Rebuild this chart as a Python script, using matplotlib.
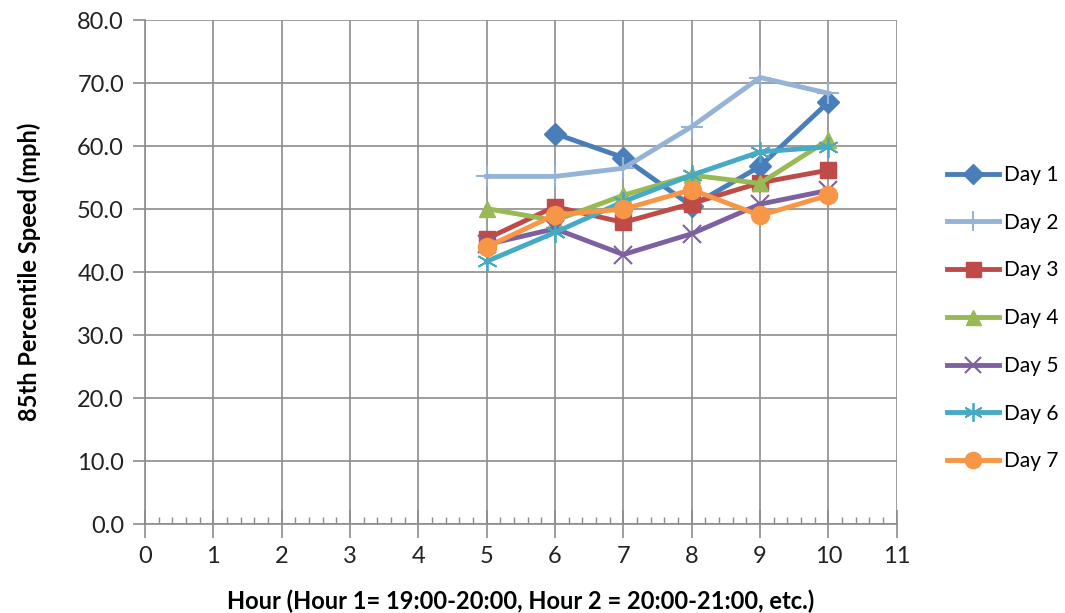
import matplotlib
matplotlib.use('Agg')
import matplotlib.pyplot as plt
from matplotlib.ticker import MultipleLocator, FormatStrFormatter

# hour values and 85th percentile speeds (mph) per day
hours_day1 = [6, 7, 8, 9, 10]
day1 = [62.0, 58.2, 50.5, 56.8, 67.0]
hours = [5, 6, 7, 8, 9, 10]
day2 = [55.2, 55.2, 56.5, 63.1, 70.9, 68.4]
day3 = [45.3, 50.4, 47.9, 50.9, 54.2, 56.2]
day4 = [50.1, 48.2, 52.2, 55.4, 54.1, 61.0]
day5 = [44.4, 46.9, 42.8, 46.1, 50.8, 53.0]
day6 = [41.7, 46.3, 51.2, 55.4, 59.1, 59.9]
day7 = [44.0, 49.1, 50.0, 53.1, 49.0, 52.2]

series = [
    ('Day 1', hours_day1, day1, '#4A7EBB', 'D', 11, 1),
    ('Day 2', hours, day2, '#95B3D7', '+', 16, 1.5),
    ('Day 3', hours, day3, '#BE4B48', 's', 12, 1),
    ('Day 4', hours, day4, '#98B954', '^', 12, 1),
    ('Day 5', hours, day5, '#7D60A0', 'x', 13, 1.5),
    ('Day 6', hours, day6, '#46AAC5', (6, 2, 0), 15, 1.3),
    ('Day 7', hours, day7, '#F79646', 'o', 13, 1),
]

plt.rcParams['font.family'] = ['Lato', 'DejaVu Sans']

fig = plt.figure(figsize=(10.65, 6.13), dpi=100)
ax = fig.add_axes([0.136, 0.145, 0.706, 0.822])

for name, x, y, color, marker, ms, mew in series:
    ax.plot(x, y, color=color, linewidth=3.5, label=name,
            marker=marker, markersize=ms, markeredgewidth=mew, zorder=3)

ax.set_xlim(0, 11)
ax.set_ylim(0, 80)
ax.xaxis.set_major_locator(MultipleLocator(1))
ax.xaxis.set_minor_locator(MultipleLocator(0.2))
ax.yaxis.set_major_locator(MultipleLocator(10))
ax.yaxis.set_major_formatter(FormatStrFormatter('%.1f'))

ax.grid(True, which='major', color='#8C8C8C', linewidth=1.2)
ax.set_axisbelow(True)
for side in ['top', 'right']:
    ax.spines[side].set_visible(False)
for side in ['left', 'bottom']:
    ax.spines[side].set_color('#8C8C8C')
    ax.spines[side].set_linewidth(1.2)

ax.tick_params(axis='y', which='major', direction='out', length=9, width=1.2,
               color='#8C8C8C', labelsize=17, pad=6, labelcolor='#222222')
ax.tick_params(axis='x', which='major', direction='inout', length=20, width=1.2,
               color='#8C8C8C', labelsize=17, pad=6, labelcolor='#222222')
ax.tick_params(axis='x', which='minor', direction='in', length=5, width=1,
               color='#8C8C8C')

ax.set_xlabel('Hour (Hour 1= 19:00-20:00, Hour 2 = 20:00-21:00, etc.)',
              fontsize=17, fontweight='bold', labelpad=16)
ax.set_ylabel('85th Percentile Speed (mph)', fontsize=17, fontweight='bold', labelpad=26)

leg = fig.legend(loc='center left', bbox_to_anchor=(0.889, 0.481), frameon=False,
                 fontsize=15, labelspacing=1.33, handlelength=2.5, handletextpad=0.25,
                 borderpad=0, borderaxespad=0, markerscale=0.9)

fig.savefig('out.png', dpi=100)
